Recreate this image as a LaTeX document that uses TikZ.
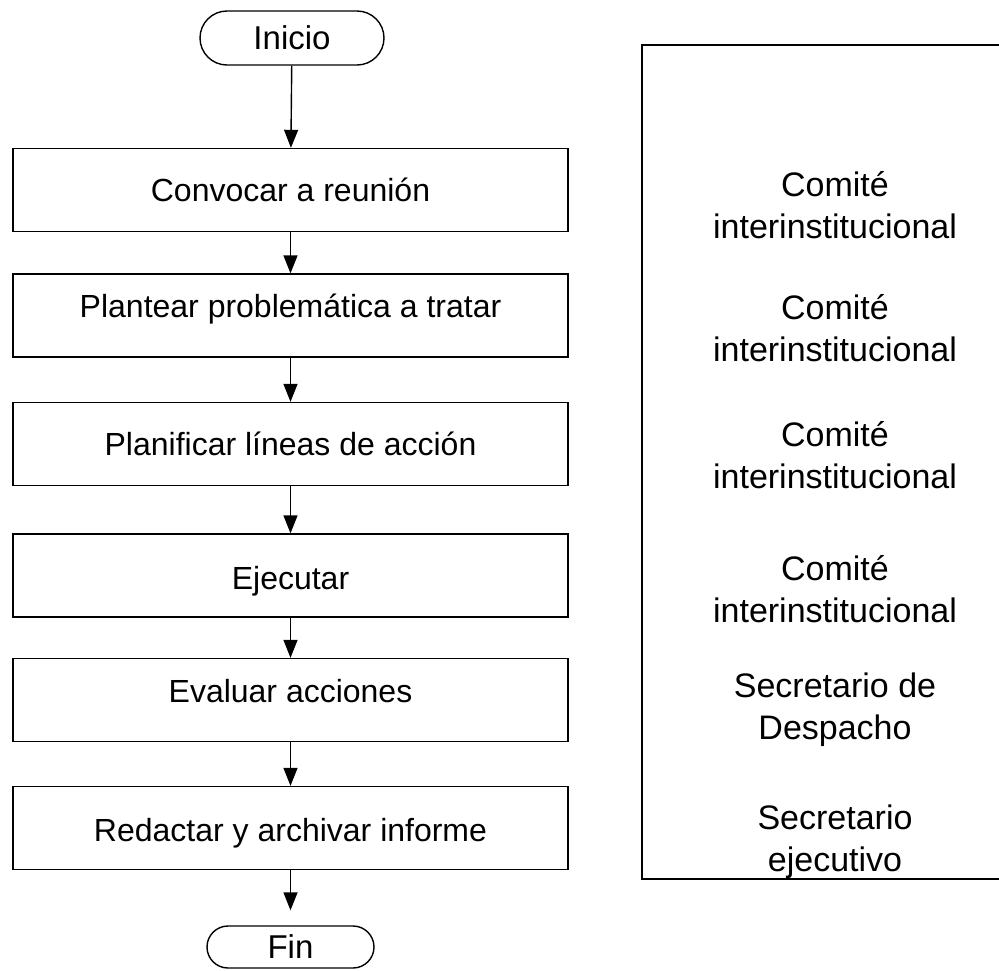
\documentclass[tikz,border=0pt]{standalone}
\usepackage{fontspec}
\setmainfont{Liberation Sans}
\usetikzlibrary{arrows.meta,shapes.misc}
\begin{document}
\begin{tikzpicture}[x=1pt,y=-1pt,
  line width=1.4pt,
  every node/.style={font=\fontsize{32}{40}\selectfont},
  term/.style={draw,rounded rectangle,inner sep=0pt,font=\fontsize{33}{40}\selectfont},
  stepbox/.style={draw,rectangle,minimum width=555pt,minimum height=83pt,inner sep=0pt},
  txt/.style={inner sep=0pt,text depth=0pt},
  who/.style={align=center,inner sep=0pt,font=\fontsize{34}{42}\selectfont},
  flow/.style={-{Triangle[length=18pt,width=14pt]},line width=1.4pt}]
\useasboundingbox (0,0) rectangle (999,970);
% start / end
\node[term,minimum width=184pt,minimum height=54pt] (ini) at (292,38) {Inicio};
\node[term,minimum width=167pt,minimum height=42pt] (fin) at (290.5,947) {Fin};
% process boxes
\node[stepbox] (b1) at (290.5,190) {};
\node[stepbox] (b2) at (290.5,315.5) {};
\node[stepbox] (b3) at (290.5,444) {};
\node[stepbox] (b4) at (290.5,575.5) {};
\node[stepbox] (b5) at (290.5,700) {};
\node[stepbox] (b6) at (290.5,828) {};
\node[txt] (t1) at (290.5,190) {Convocar a reunión};
\node[txt] (t2) at (290.5,305.5) {Plantear problemática a tratar};
\node[txt] (t3) at (290.5,443.5) {Planificar líneas de acción};
\node[txt] (t4) at (290.5,578) {Ejecutar};
\node[txt] (t5) at (290.5,691) {Evaluar acciones};
\node[txt] (t6) at (290.5,829.5) {Redactar y archivar informe};
% connectors
\draw[flow] (ini) -- (b1);
\draw[flow] (b1) -- (b2);
\draw[flow] (b2) -- (b3);
\draw[flow] (b3) -- (b4);
\draw[flow] (b4) -- (b5);
\draw[flow] (b5) -- (b6);
\draw[flow,shorten >=15pt] (b6) -- (fin);
% responsibility column
\coordinate (rtl) at (999,45);
\coordinate (rbl) at (999,879);
\draw (rtl) -- (642,45) -- (642,879) -- (rbl);
\node[who] (r1) at (835,205) {Comité\\interinstitucional};
\node[who] (r2) at (835,328) {Comité\\interinstitucional};
\node[who] (r3) at (835,455) {Comité\\interinstitucional};
\node[who] (r4) at (835,589) {Comité\\interinstitucional};
\node[who] (r5) at (835,710) {Secretario de\\Despacho};
\node[who] (r6) at (835,842) {Secretario\\ejecutivo};
\end{tikzpicture}
\end{document}
